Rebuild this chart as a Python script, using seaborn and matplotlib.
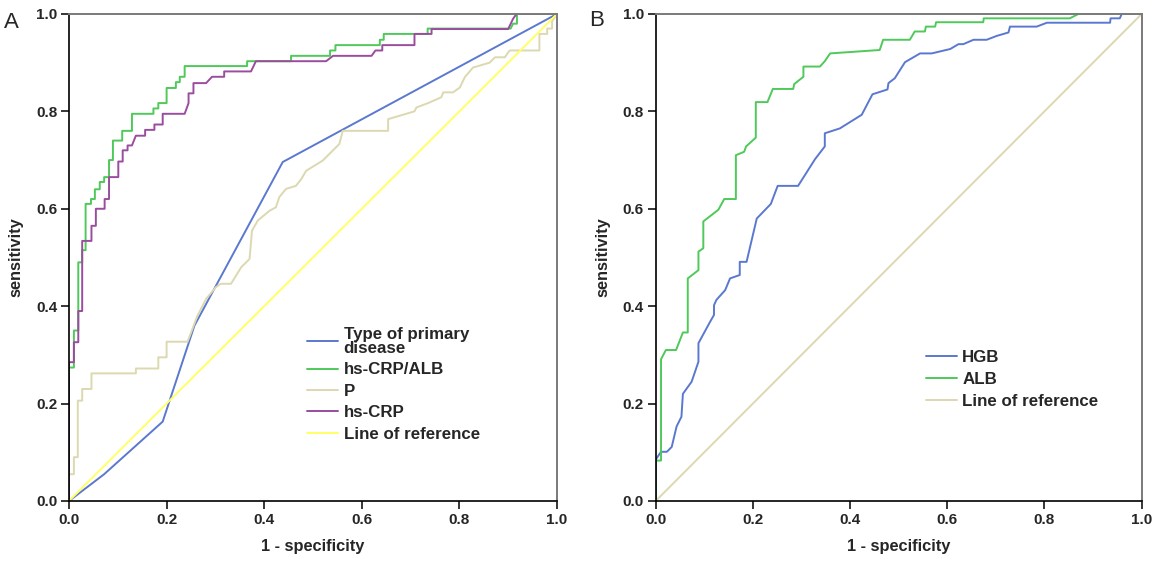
import numpy as np
import pandas as pd
import seaborn as sns
import matplotlib
matplotlib.use("Agg")
import matplotlib.pyplot as plt

# ---- panel A data (ROC vertices) ----
a_type_fpr = [0.0, 0.072, 0.192, 0.257, 0.438, 1.0]
a_type_tpr = [0.0, 0.055, 0.163, 0.36, 0.696, 1.0]

a_ratio_fpr = [0.0, 0.0, 0.01, 0.01, 0.019, 0.019, 0.027, 0.027, 0.034, 0.034, 0.045, 0.045,
               0.053, 0.053, 0.063, 0.063, 0.072, 0.072, 0.082, 0.082, 0.09, 0.09, 0.109, 0.109,
               0.129, 0.129, 0.173, 0.173, 0.183, 0.183, 0.20, 0.20, 0.219, 0.219, 0.227, 0.227,
               0.237, 0.237, 0.365, 0.365, 0.455, 0.455, 0.535, 0.535, 0.546, 0.546, 0.637, 0.637,
               0.645, 0.645, 0.735, 0.735, 0.905, 0.91, 0.918, 0.918, 1.0]
a_ratio_tpr = [0.0, 0.274, 0.274, 0.35, 0.35, 0.49, 0.49, 0.515, 0.515, 0.61, 0.61, 0.62,
               0.62, 0.64, 0.64, 0.655, 0.655, 0.665, 0.665, 0.70, 0.70, 0.74, 0.74, 0.76,
               0.76, 0.795, 0.795, 0.806, 0.806, 0.817, 0.817, 0.848, 0.848, 0.86, 0.86, 0.871,
               0.871, 0.893, 0.893, 0.903, 0.903, 0.914, 0.914, 0.925, 0.925, 0.936, 0.936, 0.947,
               0.947, 0.959, 0.959, 0.97, 0.97, 0.98, 0.98, 1.0, 1.0]

a_p_fpr = [0.0, 0.0, 0.01, 0.01, 0.018, 0.018, 0.027, 0.027, 0.046, 0.046, 0.137, 0.137,
           0.183, 0.183, 0.20, 0.20, 0.243, 0.263, 0.281, 0.301, 0.311, 0.332, 0.353, 0.37,
           0.375, 0.387, 0.411, 0.424, 0.431, 0.445, 0.465, 0.476, 0.486, 0.52, 0.537, 0.554,
           0.561, 0.654, 0.654, 0.708, 0.712, 0.736, 0.763, 0.767, 0.787, 0.801, 0.811, 0.828,
           0.862, 0.873, 0.893, 0.903, 0.964, 0.964, 0.98, 0.98, 0.99, 0.99, 1.0]
a_p_tpr = [0.0, 0.055, 0.055, 0.09, 0.09, 0.206, 0.206, 0.23, 0.23, 0.262, 0.262, 0.272,
           0.272, 0.295, 0.295, 0.327, 0.327, 0.38, 0.415, 0.439, 0.446, 0.446, 0.48, 0.497,
           0.555, 0.576, 0.596, 0.603, 0.624, 0.641, 0.647, 0.661, 0.678, 0.699, 0.716, 0.733,
           0.76, 0.76, 0.784, 0.80, 0.808, 0.817, 0.829, 0.839, 0.839, 0.849, 0.87, 0.89,
           0.90, 0.911, 0.911, 0.925, 0.925, 0.959, 0.959, 0.97, 0.97, 0.985, 1.0]

a_crp_fpr = [0.0, 0.0, 0.01, 0.01, 0.019, 0.019, 0.027, 0.027, 0.046, 0.046, 0.055, 0.055,
             0.073, 0.073, 0.082, 0.082, 0.101, 0.101, 0.11, 0.11, 0.12, 0.12, 0.129, 0.137,
             0.156, 0.156, 0.175, 0.175, 0.192, 0.192, 0.237, 0.245, 0.245, 0.255, 0.255, 0.281,
             0.293, 0.318, 0.318, 0.373, 0.383, 0.527, 0.541, 0.62, 0.628, 0.642, 0.642, 0.708,
             0.708, 0.743, 0.743, 0.90, 0.91, 0.917, 1.0]
a_crp_tpr = [0.0, 0.285, 0.285, 0.326, 0.326, 0.39, 0.39, 0.534, 0.534, 0.565, 0.565, 0.60,
             0.60, 0.62, 0.62, 0.665, 0.665, 0.697, 0.697, 0.72, 0.72, 0.73, 0.73, 0.75,
             0.75, 0.762, 0.762, 0.773, 0.773, 0.795, 0.795, 0.817, 0.837, 0.837, 0.858, 0.858,
             0.871, 0.871, 0.882, 0.882, 0.903, 0.903, 0.914, 0.914, 0.925, 0.925, 0.936, 0.936,
             0.959, 0.959, 0.969, 0.969, 0.99, 1.0, 1.0]

ref_fpr = [0.0, 1.0]
ref_tpr = [0.0, 1.0]

# ---- panel B data ----
b_hgb_fpr = [0.0, 0.0, 0.011, 0.023, 0.033, 0.043, 0.053, 0.056, 0.074, 0.088, 0.088, 0.112,
             0.12, 0.12, 0.125, 0.143, 0.153, 0.173, 0.173, 0.187, 0.208, 0.237, 0.251, 0.293,
             0.328, 0.348, 0.348, 0.379, 0.424, 0.446, 0.477, 0.479, 0.492, 0.513, 0.544, 0.568,
             0.606, 0.623, 0.633, 0.654, 0.681, 0.702, 0.726, 0.729, 0.784, 0.805, 0.935, 0.936,
             0.955, 0.959, 1.0]
b_hgb_tpr = [0.0, 0.085, 0.101, 0.101, 0.111, 0.153, 0.173, 0.22, 0.245, 0.286, 0.324, 0.368,
             0.382, 0.402, 0.413, 0.433, 0.457, 0.464, 0.491, 0.491, 0.58, 0.61, 0.647, 0.647,
             0.702, 0.728, 0.755, 0.765, 0.793, 0.835, 0.845, 0.858, 0.868, 0.901, 0.919, 0.919,
             0.928, 0.938, 0.938, 0.947, 0.947, 0.955, 0.962, 0.974, 0.974, 0.982, 0.982, 0.991,
             0.991, 1.0, 1.0]

b_alb_fpr = [0.0, 0.0, 0.011, 0.011, 0.021, 0.042, 0.056, 0.066, 0.066, 0.088, 0.088, 0.098,
             0.098, 0.129, 0.141, 0.165, 0.165, 0.182, 0.186, 0.206, 0.206, 0.23, 0.241, 0.283,
             0.285, 0.304, 0.304, 0.338, 0.348, 0.359, 0.461, 0.468, 0.523, 0.533, 0.554, 0.556,
             0.575, 0.577, 0.674, 0.675, 0.852, 0.87, 1.0]
b_alb_tpr = [0.0, 0.083, 0.083, 0.291, 0.31, 0.31, 0.346, 0.346, 0.457, 0.474, 0.512, 0.519,
             0.574, 0.598, 0.62, 0.62, 0.71, 0.717, 0.728, 0.746, 0.819, 0.819, 0.846, 0.846,
             0.856, 0.871, 0.892, 0.892, 0.903, 0.919, 0.926, 0.947, 0.947, 0.964, 0.964, 0.974,
             0.974, 0.983, 0.983, 0.991, 0.991, 1.0, 1.0]

a_labels = ["Type of primary\ndisease", "hs-CRP/ALB", "P", "hs-CRP", "Line of reference"]
a_colors = ["#5b78d0", "#4ec95a", "#dcd8b0", "#9a4c9e", "#ffff66"]
b_labels = ["HGB", "ALB", "Line of reference"]
b_colors = ["#5b78d0", "#4ec95a", "#dcd8b0"]


def make_df(curves, labels):
    parts = []
    for (fpr, tpr), lab in zip(curves, labels):
        d = pd.DataFrame({"fpr": fpr, "tpr": tpr})
        d["curve"] = lab
        parts.append(d)
    return pd.concat(parts, ignore_index=True)


df_a = make_df([(a_type_fpr, a_type_tpr), (a_ratio_fpr, a_ratio_tpr), (a_p_fpr, a_p_tpr),
                (a_crp_fpr, a_crp_tpr), (ref_fpr, ref_tpr)], a_labels)
df_b = make_df([(b_hgb_fpr, b_hgb_tpr), (b_alb_fpr, b_alb_tpr), (ref_fpr, ref_tpr)], b_labels)

sns.set_style("white")
plt.rcParams["font.family"] = ["Liberation Sans", "DejaVu Sans"]

fig = plt.figure(figsize=(11.56, 5.65), dpi=100)
ax_a = fig.add_axes([0.0597, 0.1133, 0.4221, 0.8620])
ax_b = fig.add_axes([0.5672, 0.1133, 0.4204, 0.8620])


def style_axis(ax):
    ax.set_xlim(0, 1)
    ax.set_ylim(0, 1)
    ticks = [0.0, 0.2, 0.4, 0.6, 0.8, 1.0]
    ax.set_xticks(ticks)
    ax.set_yticks(ticks)
    ax.set_xticklabels([f"{t:.1f}" for t in ticks], fontsize=11, fontweight="bold")
    ax.set_yticklabels([f"{t:.1f}" for t in ticks], fontsize=11, fontweight="bold")
    ax.tick_params(direction="out", length=5.5, width=1.1, color="black", pad=3,
                   bottom=True, left=True)
    for s in ["left", "bottom"]:
        ax.spines[s].set_color("black")
        ax.spines[s].set_linewidth(1.2)
    for s in ["top", "right"]:
        ax.spines[s].set_color("#7a7a7a")
        ax.spines[s].set_linewidth(1.4)
    ax.set_xlabel("1 - specificity", fontsize=11.8, fontweight="bold", labelpad=9)
    ax.set_ylabel("sensitivity", fontsize=11.8, fontweight="bold", labelpad=9)


for ax, df, labels, colors in [(ax_a, df_a, a_labels, a_colors), (ax_b, df_b, b_labels, b_colors)]:
    sns.lineplot(data=df, x="fpr", y="tpr", hue="curve", hue_order=labels,
                 palette=colors, units="curve", estimator=None, sort=False,
                 linewidth=1.4, ax=ax)
    style_axis(ax)

h, l = ax_a.get_legend_handles_labels()
leg_a = ax_a.legend(h, l, loc="upper left", bbox_to_anchor=(0.488, 0.358), frameon=False,
                    borderpad=0, borderaxespad=0, handlelength=1.85, handletextpad=0.3,
                    labelspacing=0.38, prop={"size": 12.2, "weight": "bold"})
for t in leg_a.get_texts():
    t.set_linespacing(0.95)
h, l = ax_b.get_legend_handles_labels()
ax_b.legend(h, l, loc="upper left", bbox_to_anchor=(0.556, 0.311), frameon=False,
            borderpad=0, borderaxespad=0, handlelength=1.85, handletextpad=0.3,
            labelspacing=0.42, prop={"size": 12.2, "weight": "bold"})

fig.text(0.003, 0.951, "A", fontsize=16, va="baseline", ha="left")
fig.text(0.5095, 0.954, "B", fontsize=16, va="baseline", ha="left")

fig.savefig("out.png", dpi=100)
